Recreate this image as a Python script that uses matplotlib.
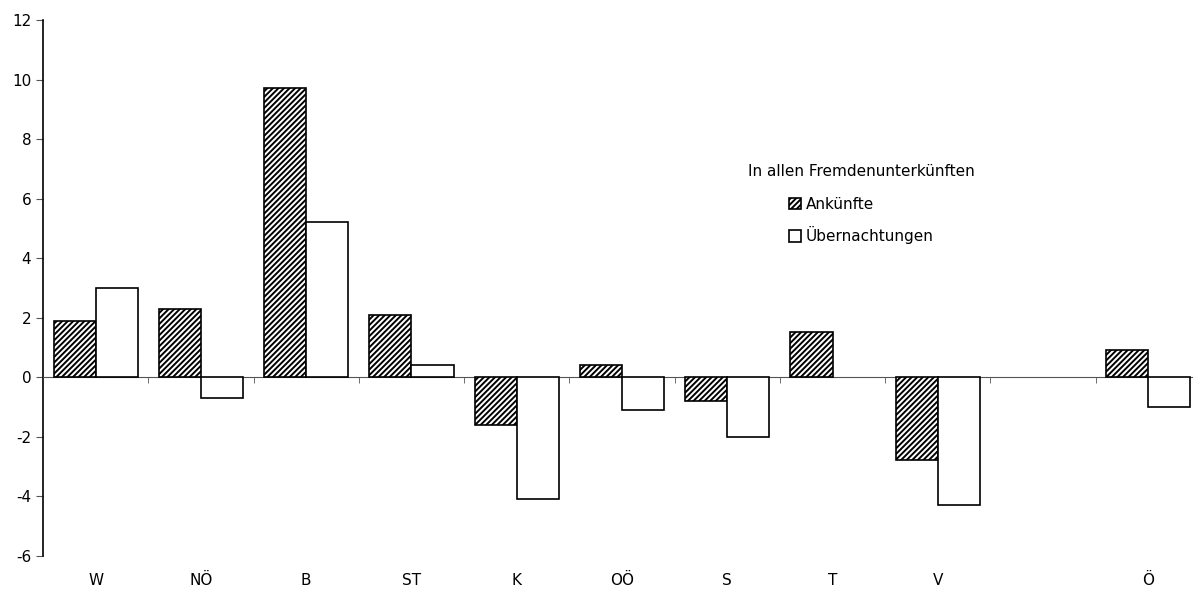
import matplotlib
matplotlib.use("Agg")
import matplotlib.pyplot as plt
import numpy as np

# Data
regions = ["W", "NÖ", "B", "ST", "K", "OÖ", "S", "T", "V", "", "Ö"]
ankuenfte = [1.9, 2.3, 9.7, 2.1, -1.6, 0.4, -0.8, 1.5, -2.8, 0.0, 0.9]
uebernachtungen = [3.0, -0.7, 5.2, 0.4, -4.1, -1.1, -2.0, 0.0, -4.3, 0.0, -1.0]
has_value = [True] * 9 + [False] + [True]
has_ueb = [True] * 7 + [False, True, False, True]

plt.rcParams['font.family'] = ['DejaVu Sans']
plt.rcParams['hatch.linewidth'] = 1.4
plt.rcParams['axes.unicode_minus'] = False

fig = plt.figure(figsize=(11.93, 5.89), dpi=100)
ax = fig.add_axes([43 / 1193, 33.3 / 589, 1158 / 1193, 535.7 / 589])

x = np.arange(len(regions))
w = 0.4
a_vals = [v if h else np.nan for v, h in zip(ankuenfte, has_value)]
u_vals = [v if h else np.nan for v, h in zip(uebernachtungen, has_ueb)]

ax.bar(x - w / 2, a_vals, width=w, facecolor='white', edgecolor='black',
       hatch='//////', linewidth=1.2, label='Ankünfte', zorder=3)
ax.bar(x + w / 2, u_vals, width=w, facecolor='white', edgecolor='black',
       linewidth=1.2, label='Übernachtungen', zorder=3)

ax.set_xlim(-0.5, len(regions) - 0.5)
ax.set_ylim(-6, 12)
ax.set_yticks(np.arange(-6, 13, 2))

ax.spines['top'].set_visible(False)
ax.spines['right'].set_visible(False)
ax.spines['bottom'].set_position(('data', 0))
ax.spines['bottom'].set_color('#555555')
ax.spines['left'].set_linewidth(1.2)

ax.set_xticks(x)
ax.set_xticklabels(regions, fontsize=11)
ax.set_xticks(np.arange(0.5, len(regions) - 1, 1), minor=True)
ax.tick_params(axis='x', which='major', length=0, pad=141)
ax.tick_params(axis='x', which='minor', length=4, direction='out', color='#555555')
ax.tick_params(axis='y', length=5, direction='out', labelsize=11, color='#555555')

leg = ax.legend(loc='upper center', bbox_to_anchor=(861 / 1193, 1 - 150 / 589),
                bbox_transform=fig.transFigure, frameon=False, fontsize=11,
                title='In allen Fremdenunterkünften', title_fontsize=11,
                handlelength=0.8, handleheight=0.8, handletextpad=0.3,
                labelspacing=0.95)
leg._legend_box.sep = 13

fig.savefig("out.png", dpi=100)
